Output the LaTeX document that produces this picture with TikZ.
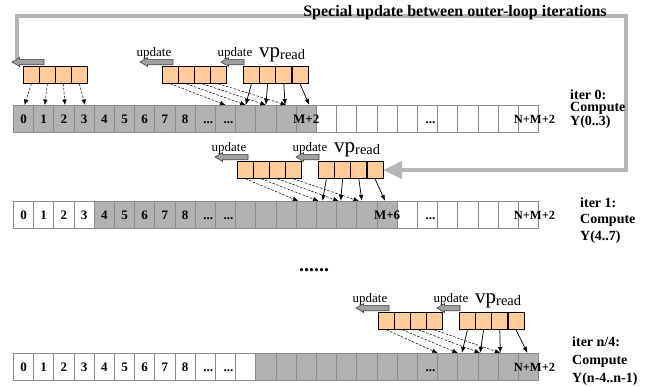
\documentclass[tikz,border=0pt]{standalone}
\usepackage{fontspec}
\setmainfont{Liberation Serif}
\usetikzlibrary{arrows.meta,calc}
\definecolor{cellgray}{HTML}{B2B2B2}
\definecolor{cellline}{HTML}{8A8A8A}
\definecolor{boxorange}{HTML}{FFCC99}
\definecolor{framegray}{HTML}{B5B5B5}
\definecolor{arrgray}{HTML}{A0A0A0}
\newcommand\blkarrow[3]{\filldraw[blockarr] ({#1},{#3-2.7}) -- ({#2+7.5},{#3-2.7}) -- ({#2+7.5},{#3-4.4}) -- ({#2},{#3}) -- ({#2+7.5},{#3+4.4}) -- ({#2+7.5},{#3+2.7}) -- ({#1},{#3+2.7}) -- cycle;}
\begin{document}
\begin{tikzpicture}[x=1pt,y=-1pt,
  cell/.style={draw=cellline, line width=0.8pt, minimum width=20.2pt, minimum height=26.5pt, inner sep=0pt, anchor=north west},
  gcell/.style={cell, fill=cellgray},
  wcell/.style={cell, fill=white},
  obox/.style={draw=black, line width=0.8pt, fill=boxorange, minimum width=16pt, minimum height=17pt, inner sep=0pt, anchor=north west},
  celltext/.style={font=\bfseries\fontsize{13}{13}\selectfont, anchor=base, inner sep=0pt},
  updlabel/.style={font=\fontsize{13}{13}\selectfont, anchor=base, inner sep=0pt},
  iterlbl/.style={font=\bfseries\fontsize{14}{#1}\selectfont, align=left, anchor=base west, inner sep=0pt},
  dasharr/.style={-{Latex[length=5.5pt,width=4.5pt]}, line width=0.5pt, dash pattern=on 2.5pt off 1.5pt},
  solarr/.style={-{Latex[length=6pt,width=4.5pt]}, line width=0.75pt},
  blockarr/.style={fill=arrgray, draw=black!75, line width=0.6pt},
  bigframe/.style={draw=framegray, line width=4.5pt, -{Triangle[length=19pt,width=17pt]}},
]
\useasboundingbox (0,0) rectangle (652,386);

% ---- arrays ----
\foreach \r/\yt in {0/105,1/201,2/353} {
  \foreach \i in {0,...,25} {
    \pgfmathtruncatemacro\isg{(\r==0)*(\i<15) + (\r==1)*(\i>3)*(\i<19) + (\r==2)*(\i>11)}
    \ifnum\isg=1
      \node[gcell] (c\r-\i) at ({13+20.2*\i},\yt) {};
    \else
      \node[wcell] (c\r-\i) at ({13+20.2*\i},\yt) {};
    \fi
  }
  \foreach \i in {0,...,8} {
    \node[celltext] (t\r-\i) at ($(c\r-\i.center)+(0,5)$) {\i};
  }
  \node[celltext] (t\r-9) at ($(c\r-9.center)+(3,5)$) {...};
  \node[celltext] (t\r-10) at ($(c\r-10.center)+(3,5)$) {...};
  \node[celltext] (t\r-20) at ($(c\r-20.center)+(3,5)$) {...};
  \node[celltext, font=\bfseries\fontsize{12.5}{12.5}\selectfont] (t\r-25) at ($(c\r-25.center)+(6,5)$) {N+M+2};
}
\node[celltext] (m2) at ($(c0-14.center)+(0,5)$) {M+2};
\node[celltext] (m6) at ($(c1-18.center)+(0,5)$) {M+6};

% ---- outer frame ----
\coordinate (fs) at (17,59);
\draw[bigframe] (fs) |- (626,16) |- (383,170);
\node[font=\bfseries\fontsize{16}{16}\selectfont, anchor=base, inner sep=0pt] (title) at (455,16.5) {Special update between outer-loop iterations};

% ---- top-left group ----
\foreach \k in {1,...,4} {
  \node[obox] (t-\k) at ({23+16*(\k-1)},66) {};
}
\blkarrow{44}{12}{62}
\foreach \k/\c in {1/0,2/1,3/2,4/3} {
  \draw[dasharr] (t-\k.south) -- ([xshift=1pt]c0-\c.north);
}

% ---- update groups ----
\foreach \r/\L/\T in {0/162/66, 1/237/161, 2/378/312} {
  \foreach \k in {1,...,4} {
    \node[obox] (a\r-\k) at ({\L+16*(\k-1)},\T) {};
    \node[obox] (b\r-\k) at ({\L+81+16.2*(\k-1)},\T) {};
  }
  \node[updlabel] (ua\r) at ({\L-8},{\T-10}) {update};
  \node[updlabel] (ub\r) at ({\L+73},{\T-10}) {update};
  \node[anchor=base west, inner sep=0pt] (vp\r) at ({\L+97},{\T-9}) {\fontsize{21}{21}\selectfont vp\fontsize{14.5}{14.5}\selectfont\raisebox{-2.5pt}{read}};
  \blkarrow{\L+11}{\L-22}{\T-4}
  \blkarrow{\L+82}{\L+59}{\T-4}
}

% ---- connectors ----
\foreach \k/\c/\s in {1/10/0, 2/11/0, 3/12/0, 4/13/0} {
  \draw[dasharr] (a0-\k.south) -- ([xshift=\s pt]c0-\c.north);
}
\foreach \k/\c/\s in {1/11/0, 2/12/0, 3/13/-1, 4/14/3} {
  \draw[solarr] (b0-\k.south) -- ([xshift=\s pt]c0-\c.north);
}
\foreach \k/\c/\s in {1/14/-8, 2/15/-8, 3/16/-8, 4/17/-8} {
  \draw[dasharr] (a1-\k.south) -- ([xshift=\s pt]c1-\c.north);
}
\foreach \k/\c/\s in {1/15/-4, 2/16/-6, 3/17/-5, 4/18/-2} {
  \draw[solarr] (b1-\k.south) -- ([xshift=\s pt]c1-\c.north);
}
\foreach \k/\c/\s in {1/21/-10, 2/22/-10, 3/23/-8, 4/24/-8} {
  \draw[dasharr] (a2-\k.south) -- ([xshift=\s pt]c2-\c.north);
}
\foreach \k/\c/\s in {1/22/-6, 2/23/-8, 3/24/-8, 4/25/-1} {
  \draw[solarr] (b2-\k.south) -- ([xshift=\s pt]c2-\c.north);
}

% ---- iteration labels ----
\node[iterlbl=12] (i0) at (570,125.5) {iter 0:\\Compute\\Y(0..3)};
\node[iterlbl=16.5] (i1) at (580,240) {iter 1:\\Compute\\Y(4..7)};
\node[iterlbl=18] (i2) at (572,382.5) {iter n/4:\\Compute\\Y(n-4..n-1)};

\node[font=\bfseries\fontsize{20}{20}\selectfont, anchor=base, inner sep=0pt] (mdots) at (314,271) {......};
\end{tikzpicture}
\end{document}
